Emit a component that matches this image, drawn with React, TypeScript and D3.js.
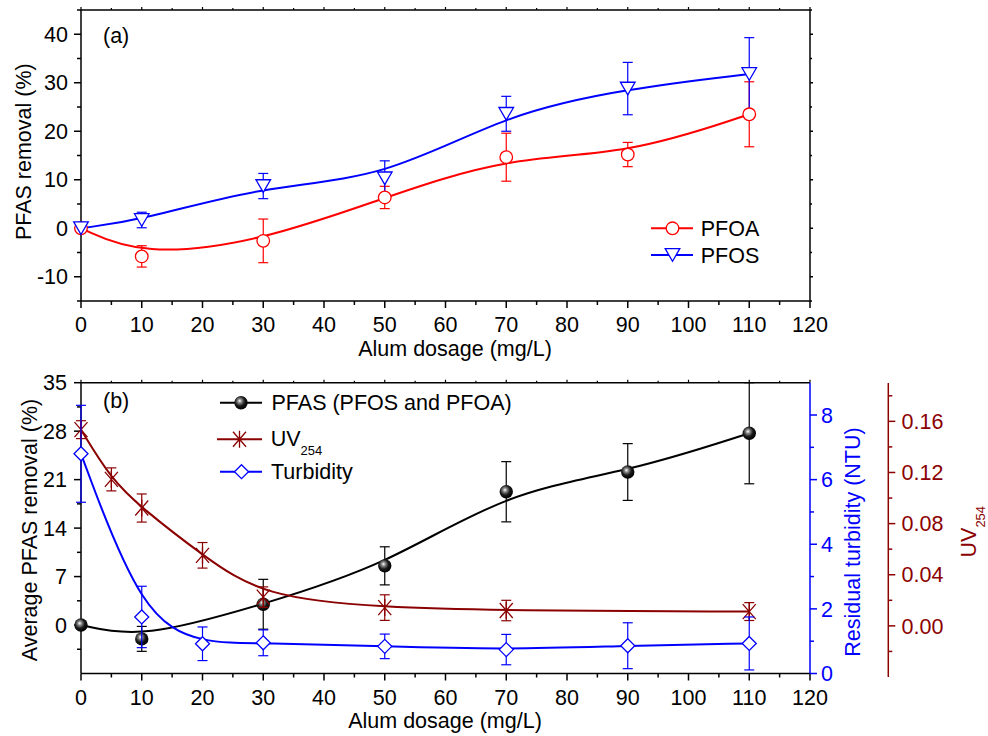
import React from 'react';
import * as d3 from 'd3';

// ---------- data ----------
const doseA = [0, 10, 30, 50, 70, 90, 110];
const pfoa = [0, -5.8, -2.6, 6.35, 14.65, 15.2, 23.5];
const pfoaErr = [0, 2.2, 4.5, 2.3, 4.95, 2.5, 6.7];
const pfos = [0, 1.7, 8.7, 10.3, 23.6, 28.8, 31.8];
const pfosErr = [0, 1.6, 2.6, 3.6, 3.6, 5.4, 7.5];

const doseB = [0, 10, 30, 50, 70, 90, 110];
const pfasAvg = [0, -2.0, 3.0, 8.55, 19.25, 22.1, 27.7];
const pfasErr = [0, 1.8, 3.6, 2.75, 4.35, 4.1, 7.3];

const doseUV = [0, 5, 10, 20, 30, 50, 70, 110];
const uv254 = [0.1535, 0.1146, 0.0922, 0.0552, 0.0225, 0.0143, 0.012, 0.0112];
const uvErr = [0.007, 0.009, 0.011, 0.01, 0.008, 0.01, 0.008, 0.007];

const doseTurb = [0, 10, 20, 30, 50, 70, 90, 110];
const turb = [6.8, 1.75, 0.92, 0.95, 0.84, 0.74, 0.86, 0.93];
const turbErr = [1.5, 0.95, 0.52, 0.4, 0.38, 0.47, 0.71, 0.82];

const xTickVals = [0, 10, 20, 30, 40, 50, 60, 70, 80, 90, 100, 110, 120];
const yTickA = [-10, 0, 10, 20, 30, 40];
const yTickB = [0, 7, 14, 21, 28, 35];
const turbTicks = [0, 2, 4, 6, 8];
const uvTicks = [0, 0.04, 0.08, 0.12, 0.16];

const FONT = '"Liberation Sans", Arial, Helvetica, sans-serif';
const FS = 21.5;
const RED = '#ff0000';
const BLUE = '#0000ff';
const WINE = '#8b0000';

// ---------- scales ----------
const L = 81, R = 810;
const x = d3.scaleLinear().domain([0, 120]).range([L, R]);
const yA = d3.scaleLinear().domain([-15, 45]).range([301, 10]);
const yB = d3.scaleLinear().domain([-7, 35]).range([673.5, 382.7]);
const yT = d3.scaleLinear().domain([0, 9]).range([673.5, 382.7]);
const yU = d3.scaleLinear().domain([-0.04, 0.19]).range([677, 383]);

const minorX = d3.range(5, 120, 10);
const minorA = d3.range(-15, 46, 10);
const minorB = d3.range(-3.5, 35, 7);
const minorT = [1, 3, 5, 7];
const minorU = d3.range(-0.02, 0.19, 0.04);

function curvePath(xs: number[], ys: number[], sy: any) {
  const pts = xs.map((d, i) => [x(d), sy(ys[i])] as [number, number]);
  return d3.line().curve(d3.curveBasis)(pts) || '';
}

function ErrBars({ xs, ys, es, sy, color, w = 5 }: any) {
  return (
    <g stroke={color} strokeWidth={1.2} fill="none">
      {xs.map((d: number, i: number) => {
        if (!es[i]) return null;
        const cx = x(d);
        const t = sy(ys[i] + es[i]);
        const b = sy(ys[i] - es[i]);
        return (
          <g key={i}>
            <line x1={cx} x2={cx} y1={t} y2={b} />
            <line x1={cx - w} x2={cx + w} y1={t} y2={t} />
            <line x1={cx - w} x2={cx + w} y1={b} y2={b} />
          </g>
        );
      })}
    </g>
  );
}

const triPath = (cx: number, cy: number) =>
  `M${cx - 7.3},${cy - 6.3}L${cx + 7.3},${cy - 6.3}L${cx},${cy + 6.3}Z`;
const diaPath = (cx: number, cy: number) =>
  `M${cx},${cy - 7}L${cx + 7},${cy}L${cx},${cy + 7}L${cx - 7},${cy}Z`;
const starPath = (cx: number, cy: number) =>
  `M${cx},${cy - 8.5}L${cx},${cy + 8.5}M${cx - 6.5},${cy - 7.5}L${cx + 6.5},${cy + 7.5}M${cx + 6.5},${cy - 7.5}L${cx - 6.5},${cy + 7.5}`;

function XAxis({ y0, yTop, labelY }: any) {
  return (
    <g>
      <line x1={L} x2={R} y1={y0} y2={y0} stroke="#000" strokeWidth={1.5} />
      <line x1={L} x2={R} y1={yTop} y2={yTop} stroke="#000" strokeWidth={1.5} />
      {xTickVals.map((v) => (
        <g key={v}>
          <line x1={x(v)} x2={x(v)} y1={y0} y2={y0 + 7} stroke="#000" strokeWidth={1.5} />
          <line x1={x(v)} x2={x(v)} y1={yTop} y2={yTop - 3} stroke="#000" strokeWidth={1.2} />
          <text x={x(v)} y={labelY} textAnchor="middle" fontSize={FS} fontFamily={FONT}>{v}</text>
        </g>
      ))}
      {minorX.map((v) => (
        <g key={'m' + v}>
          <line x1={x(v)} x2={x(v)} y1={y0} y2={y0 + 4} stroke="#000" strokeWidth={1.5} />
          <line x1={x(v)} x2={x(v)} y1={yTop} y2={yTop - 2} stroke="#000" strokeWidth={1.2} />
        </g>
      ))}
    </g>
  );
}

function VAxis({ ax, sy, majors, minors, dir, color, fmt, labelX, anchor, y1, y2, major = 7, minor = 4, labels = true }: any) {
  return (
    <g stroke={color}>
      <line x1={ax} x2={ax} y1={y1} y2={y2} strokeWidth={1.5} />
      {majors.map((v: number) => (
        <g key={v}>
          <line x1={ax} x2={ax + dir * major} y1={sy(v)} y2={sy(v)} strokeWidth={1.5} />
          {labels && (
            <text x={labelX} y={sy(v)} dy="0.36em" textAnchor={anchor} fontSize={FS} fontFamily={FONT} fill={color} stroke="none">
              {fmt(v)}
            </text>
          )}
        </g>
      ))}
      {minors.map((v: number, i: number) => (
        <line key={'m' + i} x1={ax} x2={ax + dir * minor} y1={sy(v)} y2={sy(v)} strokeWidth={1.5} />
      ))}
    </g>
  );
}

export default function App() {
  return (
    <svg width={988} height={736} style={{ position: 'absolute', left: 0, top: 0, background: '#fff' }}>
      <defs>
        <radialGradient id="sphere" cx="0.42" cy="0.4" r="0.6" fx="0.4" fy="0.36">
          <stop offset="0" stopColor="#ffffff" />
          <stop offset="0.25" stopColor="#8a8a8a" />
          <stop offset="0.6" stopColor="#1a1a1a" />
          <stop offset="1" stopColor="#000000" />
        </radialGradient>
      </defs>
      <rect x={0} y={0} width={988} height={736} fill="#fff" />

      {/* ---------------- Panel (a) ---------------- */}
      <XAxis y0={301} yTop={10} labelY={332} />
      <VAxis ax={L} sy={yA} majors={yTickA} minors={minorA} dir={-1} color="#000" fmt={(v: number) => String(v)} labelX={68} anchor="end" y1={10} y2={301} />
      <VAxis ax={R} sy={yA} majors={yTickA} minors={minorA} dir={1} color="#000" fmt={String} labelX={0} anchor="start" y1={10} y2={301} major={3} minor={2} labels={false} />
      <text x={103} y={43} fontSize={FS} fontFamily={FONT}>(a)</text>
      <text transform="translate(30.5,151.7) rotate(-90)" textAnchor="middle" fontSize={FS} fontFamily={FONT}>PFAS removal (%)</text>
      <text x={455} y={356} textAnchor="middle" fontSize={FS} fontFamily={FONT}>Alum dosage (mg/L)</text>

      <path d={curvePath(doseA, pfoa, yA)} fill="none" stroke={RED} strokeWidth={2} />
      <path d={curvePath(doseA, pfos, yA)} fill="none" stroke={BLUE} strokeWidth={2} />
      <ErrBars xs={doseA} ys={pfoa} es={pfoaErr} sy={yA} color={RED} />
      <ErrBars xs={doseA} ys={pfos} es={pfosErr} sy={yA} color={BLUE} />
      {doseA.map((d, i) => (
        <circle key={'c' + i} cx={x(d)} cy={yA(pfoa[i])} r={6.3} fill="#fff" stroke={RED} strokeWidth={1.3} />
      ))}
      {doseA.map((d, i) => (
        <path key={'t' + i} d={triPath(x(d), yA(pfos[i]))} fill="#fff" stroke={BLUE} strokeWidth={1.3} />
      ))}

      {/* legend a */}
      <line x1={651} x2={693} y1={228.3} y2={228.3} stroke={RED} strokeWidth={2} />
      <circle cx={672.5} cy={228.3} r={6.3} fill="#fff" stroke={RED} strokeWidth={1.3} />
      <text x={700.7} y={236} fontSize={FS} fontFamily={FONT}>PFOA</text>
      <line x1={651} x2={693} y1={255} y2={255} stroke={BLUE} strokeWidth={2} />
      <path d={triPath(672.5, 255)} fill="#fff" stroke={BLUE} strokeWidth={1.3} />
      <text x={700.7} y={263} fontSize={FS} fontFamily={FONT}>PFOS</text>

      {/* ---------------- Panel (b) ---------------- */}
      <XAxis y0={673.5} yTop={382.7} labelY={705} />
      <VAxis ax={L} sy={yB} majors={yTickB} minors={minorB} dir={-1} color="#000" fmt={(v: number) => String(v)} labelX={67} anchor="end" y1={382.7} y2={673.5} />
      <VAxis ax={R} sy={yT} majors={turbTicks} minors={minorT} dir={1} color={BLUE} fmt={(v: number) => String(v)} labelX={821} anchor="start" y1={382.7} y2={673.5} />
      <VAxis ax={888.3} sy={yU} majors={uvTicks} minors={minorU} dir={1} color={WINE} fmt={(v: number) => v.toFixed(2)} labelX={901.5} anchor="start" y1={383} y2={677} />

      <text x={103} y={408} fontSize={FS} fontFamily={FONT}>(b)</text>
      <text transform="translate(37,530) rotate(-90)" textAnchor="middle" fontSize={FS} fontFamily={FONT}>Average PFAS removal (%)</text>
      <text transform="translate(860,542) rotate(-90)" textAnchor="middle" fontSize={FS} fontFamily={FONT} fill={BLUE}>Residual turbidity (NTU)</text>
      <text transform="translate(976,531.7) rotate(-90)" textAnchor="middle" fontSize={FS} fontFamily={FONT} fill={WINE}>
        UV<tspan fontSize={13} dy={9}>254</tspan>
      </text>
      <text x={445} y={728} textAnchor="middle" fontSize={FS} fontFamily={FONT}>Alum dosage (mg/L)</text>

      <path d={curvePath(doseB, pfasAvg, yB)} fill="none" stroke="#000" strokeWidth={2} />
      <path d={curvePath(doseUV, uv254, yU)} fill="none" stroke={WINE} strokeWidth={2} />
      <path d={curvePath(doseTurb, turb, yT)} fill="none" stroke={BLUE} strokeWidth={2} />

      <ErrBars xs={doseB} ys={pfasAvg} es={pfasErr} sy={yB} color="#000" />
      {doseB.map((d, i) => (
        <circle key={'s' + i} cx={x(d)} cy={yB(pfasAvg[i])} r={6.7} fill="url(#sphere)" />
      ))}
      <ErrBars xs={doseUV} ys={uv254} es={uvErr} sy={yU} color={WINE} />
      {doseUV.map((d, i) => (
        <path key={'u' + i} d={starPath(x(d), yU(uv254[i]))} fill="none" stroke={WINE} strokeWidth={1.3} />
      ))}
      <ErrBars xs={doseTurb} ys={turb} es={turbErr} sy={yT} color={BLUE} />
      {doseTurb.map((d, i) => (
        <path key={'d' + i} d={diaPath(x(d), yT(turb[i]))} fill="#fff" stroke={BLUE} strokeWidth={1.3} />
      ))}

      {/* legend b */}
      <line x1={220} x2={262} y1={402.7} y2={402.7} stroke="#000" strokeWidth={2} />
      <circle cx={241} cy={402.7} r={6.7} fill="url(#sphere)" />
      <text x={271.5} y={410} fontSize={FS} fontFamily={FONT}>PFAS (PFOS and PFOA)</text>
      <line x1={217} x2={262} y1={439.3} y2={439.3} stroke={WINE} strokeWidth={2} />
      <path d={starPath(239.5, 439.3)} fill="none" stroke={WINE} strokeWidth={1.3} />
      <text x={270.7} y={445.5} fontSize={FS} fontFamily={FONT}>
        UV<tspan fontSize={13} dy={9.5}>254</tspan>
      </text>
      <line x1={220} x2={262} y1={471.7} y2={471.7} stroke={BLUE} strokeWidth={2} />
      <path d={diaPath(241.5, 471.7)} fill="#fff" stroke={BLUE} strokeWidth={1.3} />
      <text x={271} y={479} fontSize={FS} fontFamily={FONT}>Turbidity</text>
    </svg>
  );
}
